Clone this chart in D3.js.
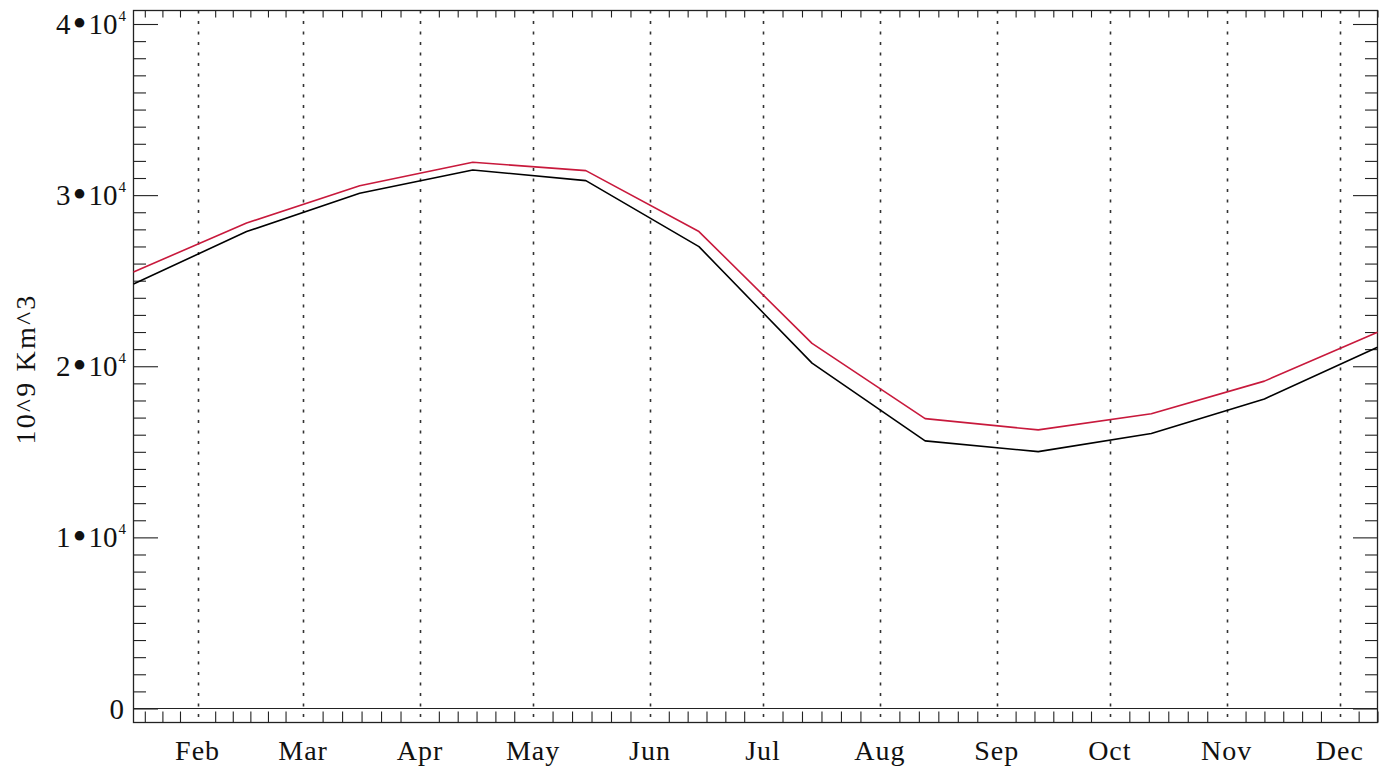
<!DOCTYPE html>
<html>
<head>
<meta charset="utf-8">
<script src="https://cdn.jsdelivr.net/npm/d3@7"></script>
<style>
  html, body { margin: 0; padding: 0; background: #fff; }
  svg text { font-family: "Liberation Serif", "Times New Roman", serif; fill: #111; }
</style>
</head>
<body>
<svg id="chart" width="1389" height="771"></svg>
<script>
// Monthly samples, positioned by day of year
const sampleDay = [15, 45, 75, 105, 135, 165, 195, 225, 255, 285, 315, 345];
const volumeBlack = [24810, 27870, 30110, 31470, 30850, 26990, 20180, 15640, 15010, 16070, 18090, 21110];
const volumeRed   = [25510, 28370, 30550, 31920, 31430, 27870, 21340, 16940, 16280, 17220, 19130, 21990];

// Month boundaries (day of year of the 1st) and their labels
const monthLabels = ["Feb", "Mar", "Apr", "May", "Jun", "Jul", "Aug", "Sep", "Oct", "Nov", "Dec"];
const monthStartDay = [32, 60, 91, 121, 152, 182, 213, 244, 274, 305, 335];

// Y axis ticks and labels
const yMajorTicks = [0, 10000, 20000, 30000, 40000];
const yMantissa = ["0", "1", "2", "3", "4"];
const yExponent = [null, "4", "4", "4", "4"];
const yMinorStep = 1000;
const yTitle = "10^9 Km^3";

const svg = d3.select("#chart");

// Plot frame
const box = { left: 133.5, right: 1377.5, top: 10.5, bottom: 722.5 };
const zeroY = 708.5, topValueY = 24;

const x = d3.scaleLinear().domain([15, 345]).range([box.left, box.right]);
const y = d3.scaleLinear().domain([0, 40000]).range([zeroY, topValueY]);

// Minor x ticks: each month split into six; the ends reuse the nearest month's step
const xMinor = [];
for (let i = 0; i < monthStartDay.length - 1; i++) {
  const a = monthStartDay[i], b = monthStartDay[i + 1], s = (b - a) / 6;
  for (let k = 1; k < 6; k++) xMinor.push(a + k * s);
}
{
  const s0 = (monthStartDay[1] - monthStartDay[0]) / 6;
  for (let d = monthStartDay[0] - s0; d >= x.domain()[0] - 1e-6; d -= s0) xMinor.push(d);
  const n = monthStartDay.length;
  const s1 = (monthStartDay[n - 1] - monthStartDay[n - 2]) / 6;
  for (let d = monthStartDay[n - 1] + s1; d <= x.domain()[1] + 1e-6; d += s1) xMinor.push(d);
}
const yMinor = d3.range(yMajorTicks[0], yMajorTicks[yMajorTicks.length - 1] + 1, yMinorStep)
  .filter(v => !yMajorTicks.includes(v));

const axisColor = "#222";

function styleAxis(g) {
  g.select(".domain").remove();
  g.selectAll(".tick line").attr("stroke", axisColor).attr("stroke-width", 1.1);
  g.selectAll(".tick text").remove();
}

// Dotted month gridlines spanning the frame
svg.append("g")
  .selectAll("line")
  .data(monthStartDay)
  .join("line")
  .attr("x1", d => Math.round(x(d)) + 0.5)
  .attr("x2", d => Math.round(x(d)) + 0.5)
  .attr("y1", box.top)
  .attr("y2", box.bottom)
  .attr("stroke", "#333")
  .attr("stroke-width", 1.6)
  .attr("stroke-dasharray", "3,7.5");

// x minor ticks (bottom and top, pointing inward)
svg.append("g").attr("transform", `translate(0,${box.bottom})`)
  .call(d3.axisTop(x).tickValues(xMinor).tickSize(11).tickSizeOuter(0).tickFormat(""))
  .call(styleAxis);
svg.append("g").attr("transform", `translate(0,${box.top})`)
  .call(d3.axisBottom(x).tickValues(xMinor).tickSize(7).tickSizeOuter(0).tickFormat(""))
  .call(styleAxis);

// y ticks on the left and right, pointing inward
svg.append("g").attr("transform", `translate(${box.left},0)`)
  .call(d3.axisRight(y).tickValues(yMinor).tickSize(12.5).tickSizeOuter(0).tickFormat(""))
  .call(styleAxis);
svg.append("g").attr("transform", `translate(${box.left},0)`)
  .call(d3.axisRight(y).tickValues(yMajorTicks).tickSize(24.5).tickSizeOuter(0).tickFormat(""))
  .call(styleAxis);
svg.append("g").attr("transform", `translate(${box.right},0)`)
  .call(d3.axisLeft(y).tickValues(yMinor).tickSize(12.5).tickSizeOuter(0).tickFormat(""))
  .call(styleAxis);
svg.append("g").attr("transform", `translate(${box.right},0)`)
  .call(d3.axisLeft(y).tickValues(yMajorTicks).tickSize(24.5).tickSizeOuter(0).tickFormat(""))
  .call(styleAxis);

// Zero line
svg.append("line")
  .attr("x1", box.left).attr("x2", box.right)
  .attr("y1", y(0)).attr("y2", y(0))
  .attr("stroke", axisColor).attr("stroke-width", 1.1);

// Frame
svg.append("rect")
  .attr("x", box.left).attr("y", box.top)
  .attr("width", box.right - box.left).attr("height", box.bottom - box.top)
  .attr("fill", "none").attr("stroke", axisColor).attr("stroke-width", 1.3);

// Series lines
const line = d3.line().x((d, i) => x(sampleDay[i])).y(d => y(d));
svg.append("path").datum(volumeBlack)
  .attr("d", line).attr("fill", "none")
  .attr("stroke", "#000").attr("stroke-width", 1.6).attr("stroke-linejoin", "round");
svg.append("path").datum(volumeRed)
  .attr("d", line).attr("fill", "none")
  .attr("stroke", "#c8193c").attr("stroke-width", 1.6).attr("stroke-linejoin", "round");

// Month labels
svg.append("g")
  .selectAll("text")
  .data(monthLabels)
  .join("text")
  .attr("x", (d, i) => x(monthStartDay[i]))
  .attr("y", 760)
  .attr("text-anchor", "middle")
  .attr("font-size", 28)
  .attr("letter-spacing", 1)
  .text(d => d);

// Y tick labels: mantissa • 10 with superscript exponent
const yLab = svg.append("g")
  .selectAll("text")
  .data(yMajorTicks)
  .join("text")
  .attr("x", 126)
  .attr("y", d => y(d) + 10)
  .attr("text-anchor", "end")
  .attr("font-size", 29);
yLab.each(function (d, i) {
  const t = d3.select(this);
  if (yExponent[i] === null) {
    t.attr("x", 124).text(yMantissa[i]);
    return;
  }
  t.append("tspan").text(yMantissa[i]);
  t.append("tspan").attr("font-size", 40).attr("dy", 3).attr("dx", 2).text("\u2022");
  t.append("tspan").attr("dy", -3).attr("dx", 2).text("10");
  t.append("tspan").attr("font-size", 15).attr("dy", -13).attr("dx", 1).text(yExponent[i]);
});

// Y axis title
svg.append("text")
  .attr("transform", "translate(35,369) rotate(-90)")
  .attr("text-anchor", "middle")
  .attr("font-size", 28)
  .attr("letter-spacing", 2.2)
  .text(yTitle);
</script>
</body>
</html>
